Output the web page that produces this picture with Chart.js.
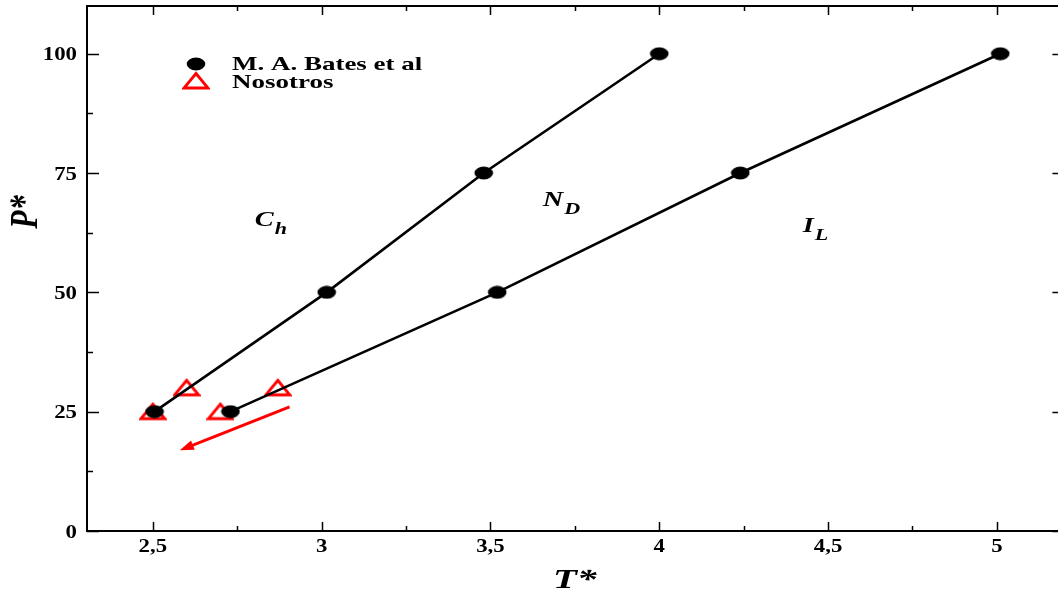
<!DOCTYPE html>
<html>
<head>
<meta charset="utf-8">
<title>P* vs T*</title>
<script src="https://cdn.jsdelivr.net/npm/chart.js@4.4.1/dist/chart.umd.min.js"></script>
<style>
  html, body { margin: 0; padding: 0; background: #fff; overflow: hidden; }
  canvas { display: block; }
</style>
</head>
<body>
<canvas id="chart" width="1058" height="598"></canvas>
<script>
/* ===== Datos ===== */
const batesT1 = [2.505, 3.015, 3.48, 4.0];
const batesP1 = [25, 50, 75, 100];
const batesT2 = [2.73, 3.52, 4.24, 5.01];
const batesP2 = [25, 50, 75, 100];
const nosT = [2.5, 2.6, 2.7, 2.87];
const nosP = [25, 30, 25, 30];

const xTicks = [2.5, 3, 3.5, 4, 4.5, 5];
const xTickLabels = ['2,5', '3', '3,5', '4', '4,5', '5'];
const xMinor = [2.75, 3.25, 3.75, 4.25, 4.75];
const yTicks = [0, 25, 50, 75, 100];
const yTickLabels = ['0', '25', '50', '75', '100'];
const yMinor = [12.5, 37.5, 62.5, 87.5];

const legendLabels = ['M. A. Bates et al', 'Nosotros'];
const regionLabels = [
  { main: 'C', sub: 'h', t: 2.802, p: 64.0 },
  { main: 'N', sub: 'D', t: 3.655, p: 68.2 },
  { main: 'I', sub: 'L', t: 4.425, p: 62.6 }
];
const arrowFrom = [2.905, 26.0];
const arrowTo = [2.58, 16.9];

// el marco derecho queda fuera de la imagen (T* = 5.2)
const frameRightT = 5.2;

/* ===== Marcadores ===== */
function makeEllipse() {
  const c = document.createElement('canvas');
  c.width = 20; c.height = 14;
  const g = c.getContext('2d');
  g.fillStyle = '#000';
  g.beginPath();
  g.ellipse(10, 7, 9.3, 6.5, 0, 0, Math.PI * 2);
  g.fill();
  return c;
}
function makeTriangle() {
  const c = document.createElement('canvas');
  c.width = 28; c.height = 20;
  const g = c.getContext('2d');
  g.strokeStyle = '#f00';
  g.lineWidth = 2.8;
  g.lineJoin = 'miter';
  g.beginPath();
  g.moveTo(14, 2.5);
  g.lineTo(26, 17);
  g.lineTo(2, 17);
  g.closePath();
  g.stroke();
  return c;
}
const dotImg = makeEllipse();
const triImg = makeTriangle();

function xy(ts, ps) { return ts.map((t, i) => ({ x: t, y: ps[i] })); }

const SERIF = '"Liberation Serif", "Times New Roman", serif';

function stretchText(ctx, text, x, y, font, sx, align) {
  ctx.save();
  ctx.translate(x, y);
  ctx.scale(sx, 1);
  ctx.font = font;
  ctx.textAlign = align || 'left';
  ctx.textBaseline = 'alphabetic';
  ctx.fillStyle = '#000';
  ctx.fillText(text, 0, 0);
  const w = ctx.measureText(text).width * sx;
  ctx.restore();
  return w;
}

/* ===== Marco, ticks, textos ===== */
const framePlugin = {
  id: 'frame',
  afterDatasetsDraw(chart) {
    const { ctx, chartArea: a, scales: { x, y } } = chart;
    const right = x.getPixelForValue(frameRightT);
    ctx.save();
    ctx.strokeStyle = '#000';
    ctx.lineWidth = 2;
    ctx.strokeRect(a.left, a.top, right - a.left, a.bottom - a.top);

    ctx.lineWidth = 1.5;
    ctx.beginPath();
    const xt = (v, len) => {
      const px = Math.round(x.getPixelForValue(v)) + 0.5;
      ctx.moveTo(px, a.bottom); ctx.lineTo(px, a.bottom - len);
      ctx.moveTo(px, a.top); ctx.lineTo(px, a.top + len);
    };
    const yt = (v, len) => {
      const py = Math.round(y.getPixelForValue(v)) + 0.5;
      ctx.moveTo(a.left, py); ctx.lineTo(a.left + len, py);
      ctx.moveTo(right, py); ctx.lineTo(right - len, py);
    };
    xTicks.forEach(v => xt(v, 9));
    xMinor.forEach(v => xt(v, 5));
    yTicks.forEach(v => yt(v, 12));
    yMinor.forEach(v => yt(v, 6));
    ctx.stroke();

    // etiquetas de ticks
    const tickFont = 'bold 19px ' + SERIF;
    xTicks.forEach((v, i) => stretchText(ctx, xTickLabels[i], x.getPixelForValue(v), 552, tickFont, 1.2, 'center'));
    yTicks.forEach((v, i) => stretchText(ctx, yTickLabels[i], 77, y.getPixelForValue(v) + 6.5, tickFont, 1.2, 'right'));

    // títulos de ejes
    stretchText(ctx, 'T*', 553, 588, 'italic bold 27px ' + SERIF, 1.45, 'left');
    ctx.save();
    ctx.translate(27, 212);
    ctx.scale(1.3, 1);
    ctx.rotate(-Math.PI / 2);
    ctx.font = 'italic bold 30px ' + SERIF;
    ctx.textAlign = 'center';
    ctx.textBaseline = 'middle';
    ctx.fillStyle = '#000';
    ctx.fillText('P*', 0, 0);
    ctx.restore();

    // regiones
    regionLabels.forEach(r => {
      const px = x.getPixelForValue(r.t);
      const py = y.getPixelForValue(r.p);
      const w = stretchText(ctx, r.main, px, py, 'italic bold 21px ' + SERIF, 1.35, 'left');
      stretchText(ctx, r.sub, px + w + 1, py + 8, 'italic bold 17px ' + SERIF, 1.3, 'left');
    });

    // flecha roja
    const x0 = x.getPixelForValue(arrowFrom[0]), y0 = y.getPixelForValue(arrowFrom[1]);
    const x1 = x.getPixelForValue(arrowTo[0]), y1 = y.getPixelForValue(arrowTo[1]);
    const ang = Math.atan2(y1 - y0, x1 - x0);
    ctx.strokeStyle = '#f00';
    ctx.fillStyle = '#f00';
    ctx.lineWidth = 3;
    ctx.beginPath();
    ctx.moveTo(x0, y0);
    ctx.lineTo(x1 - 8 * Math.cos(ang), y1 - 8 * Math.sin(ang));
    ctx.stroke();
    ctx.beginPath();
    ctx.moveTo(x1, y1);
    ctx.lineTo(x1 - 14 * Math.cos(ang) + 5 * Math.sin(ang), y1 - 14 * Math.sin(ang) - 5 * Math.cos(ang));
    ctx.lineTo(x1 - 14 * Math.cos(ang) - 5 * Math.sin(ang), y1 - 14 * Math.sin(ang) + 5 * Math.cos(ang));
    ctx.closePath();
    ctx.fill();

    // leyenda
    ctx.drawImage(dotImg, 196 - 10, 64 - 7);
    ctx.drawImage(triImg, 196 - 14, 81 - 10);
    const legFont = 'bold 19px ' + SERIF;
    stretchText(ctx, legendLabels[0], 232, 70, legFont, 1.42, 'left');
    stretchText(ctx, legendLabels[1], 232, 88, legFont, 1.42, 'left');
    ctx.restore();
  }
};

const lineStyle = {
  borderColor: '#000',
  borderWidth: 2.6,
  pointStyle: dotImg,
  showLine: true,
  tension: 0
};

new Chart(document.getElementById('chart'), {
  type: 'scatter',
  data: {
    datasets: [
      Object.assign({ label: legendLabels[0], data: xy(batesT1, batesP1) }, lineStyle),
      Object.assign({ label: legendLabels[0], data: xy(batesT2, batesP2) }, lineStyle),
      {
        label: legendLabels[1],
        data: xy(nosT, nosP),
        pointStyle: triImg,
        showLine: false
      }
    ]
  },
  options: {
    responsive: false,
    animation: false,
    layout: { autoPadding: false, padding: { left: 87, right: 0, top: 6, bottom: 67 } },
    plugins: { legend: { display: false }, tooltip: { enabled: false } },
    scales: {
      x: { type: 'linear', min: 2.305, max: 5.181, display: false },
      y: { type: 'linear', min: 0, max: 110, display: false }
    }
  },
  plugins: [framePlugin]
});
</script>
</body>
</html>
